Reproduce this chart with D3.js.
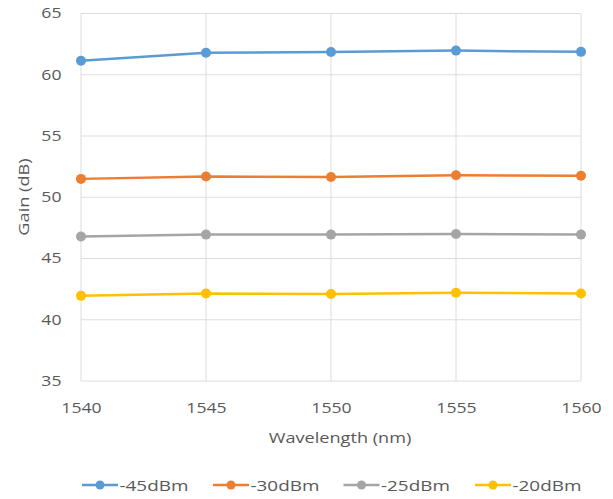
<!DOCTYPE html>
<html><head><meta charset="utf-8">
<script src="https://cdn.jsdelivr.net/npm/d3@7"></script>
<style>body{margin:0;background:#fff}svg text{font-family:"Open Sans",sans-serif;fill:#595959}</style>
</head><body><svg id="c" width="613" height="499"></svg>
<script>
const wavelengths = [1540, 1545, 1550, 1555, 1560];
const seriesNames = ["-45dBm", "-30dBm", "-25dBm", "-20dBm"];
const seriesColors = ["#5b9bd5", "#ed7d31", "#a5a5a5", "#ffc000"];
const gain45 = [61.15, 61.8, 61.85, 61.97, 61.87];
const gain30 = [51.5, 51.7, 51.65, 51.8, 51.75];
const gain25 = [46.8, 46.95, 46.95, 47.0, 46.95];
const gain20 = [41.95, 42.15, 42.1, 42.2, 42.15];
const yTicks = [35, 40, 45, 50, 55, 60, 65];
const allSeries = [gain45, gain30, gain25, gain20];

const SX = 1.26;
const svg = d3.select("#c");
const x = d3.scaleLinear().domain([1540, 1560]).range([81, 581]);
const y = d3.scaleLinear().domain([35, 65]).range([381, 13.5]);

// grid
svg.append("g").selectAll("line").data(yTicks).join("line")
  .attr("x1", x(1540)).attr("x2", x(1560)).attr("y1", d => y(d)).attr("y2", d => y(d))
  .attr("stroke", "#dcdcdc").attr("stroke-width", 1);
svg.append("g").selectAll("line").data(wavelengths).join("line")
  .attr("x1", d => x(d)).attr("x2", d => x(d)).attr("y1", y(35)).attr("y2", y(65))
  .attr("stroke", "#dcdcdc").attr("stroke-width", 1);

// axes
const yAxis = svg.append("g").attr("transform", `translate(${x(1540)},0)`)
  .call(d3.axisLeft(y).tickValues(yTicks).tickSize(0));
yAxis.select(".domain").remove();
yAxis.selectAll("text").style("font-size", "14px").attr("fill", "#595959")
  .attr("x", -19.5 / SX).attr("transform", `scale(${SX},1)`);
const xAxis = svg.append("g").attr("transform", `translate(0,${y(35)})`)
  .call(d3.axisBottom(x).tickValues(wavelengths).tickFormat(d3.format("d")).tickSize(0));
xAxis.select(".domain").remove();
xAxis.selectAll("text").style("font-size", "14px").attr("fill", "#595959")
  .attr("y", 32).attr("dy", 0).attr("transform", `scale(${SX},1)`);

svg.append("text").attr("transform", `translate(340,442.5) scale(1.25,1)`).attr("text-anchor", "middle")
  .style("font-size", "14.5px").text("Wavelength (nm)");
svg.append("text").attr("transform", `translate(28.5,197) rotate(-90) scale(1.3,1)`).attr("text-anchor", "middle")
  .style("font-size", "14px").text("Gain (dB)");

// lines
const line = d3.line().x((d, i) => x(wavelengths[i])).y(d => y(d));
allSeries.forEach((s, k) => {
  svg.append("path").datum(s).attr("d", line).attr("fill", "none")
    .attr("stroke", seriesColors[k]).attr("stroke-width", 2.5);
  svg.append("g").selectAll("circle").data(s).join("circle")
    .attr("cx", (d, i) => x(wavelengths[i])).attr("cy", d => y(d)).attr("r", 5)
    .attr("fill", seriesColors[k]);
});

// legend
const legX = [82, 213, 343.5, 475];
const lg = svg.append("g");
seriesNames.forEach((n, k) => {
  const g = lg.append("g").attr("transform", `translate(${legX[k]},485)`);
  g.append("line").attr("x1", 0).attr("x2", 36).attr("stroke", seriesColors[k]).attr("stroke-width", 2.5);
  g.append("circle").attr("cx", 18).attr("r", 4.5).attr("fill", seriesColors[k]);
  g.append("text").attr("transform", `translate(37.5,5.5) scale(${SX},1)`).style("font-size", "15px").text(n);
});
</script></body></html>
